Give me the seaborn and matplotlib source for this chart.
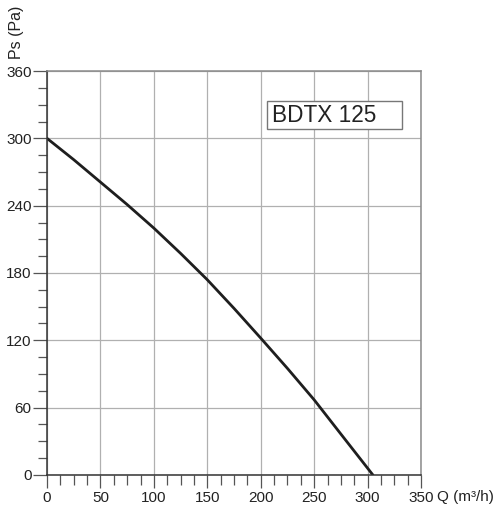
import matplotlib
matplotlib.use("Agg")
import matplotlib.pyplot as plt
from matplotlib.ticker import MultipleLocator
from matplotlib.patches import Rectangle
import seaborn as sns
import pandas as pd

# Data
q_values = [0, 25, 50, 75, 100, 125, 150, 175, 200, 225, 250, 275, 305]
ps_values = [300, 281, 261, 241, 220, 197.5, 174, 148.5, 122, 95, 67, 36.5, 0]
x_ticks = [0, 50, 100, 150, 200, 250, 300, 350]
y_ticks = [0, 60, 120, 180, 240, 300, 360]
title_text = "BDTX 125"
x_label = "Q (m³/h)"
y_label = "Ps (Pa)"

sns.set_style("white")
plt.rcParams["font.family"] = ["Liberation Sans", "DejaVu Sans"]

df = pd.DataFrame({"Q": q_values, "Ps": ps_values})

fig = plt.figure(figsize=(5.0, 5.12), dpi=100)
ax = fig.add_axes([0.094, 0.0723, 0.748, 0.789])

sns.lineplot(data=df, x="Q", y="Ps", ax=ax, color="#1e1e1e", linewidth=2.0)

ax.set_xlim(0, 350)
ax.set_ylim(0, 360)
ax.set_xticks(x_ticks)
ax.set_yticks(y_ticks)
ax.xaxis.set_minor_locator(MultipleLocator(12.5))
ax.yaxis.set_minor_locator(MultipleLocator(15))
ax.grid(True, which="major", color="#b0b0b0", linewidth=0.9)
ax.set_axisbelow(True)

ax.tick_params(axis="both", which="both", bottom=True, left=True,
               top=False, right=False, direction="out", color="#555555", width=0.9)
ax.tick_params(axis="both", which="major", labelsize=11, labelcolor="#222222")
ax.tick_params(axis="y", which="major", length=10, pad=1)
ax.tick_params(axis="x", which="major", length=9.4, pad=2)
ax.tick_params(axis="y", which="minor", length=6.5)
ax.tick_params(axis="x", which="minor", length=7)

for side in ["left", "bottom"]:
    ax.spines[side].set_color("#333333")
    ax.spines[side].set_linewidth(1.1)
for side in ["top", "right"]:
    ax.spines[side].set_visible(True)
    ax.spines[side].set_color("#8a8a8a")
    ax.spines[side].set_linewidth(1.1)

ax.set_xlabel("")
ax.set_ylabel("")

fig.text(437 / 500, 1 - 496.5 / 512, x_label, fontsize=11, color="#222222",
         ha="left", va="center")
fig.text(17 / 500, 1 - 32 / 512, y_label, fontsize=11.5, color="#222222",
         ha="center", va="center", rotation=90)

# Label box
ax.add_patch(Rectangle((0.588, 0.856), 0.361, 0.070, transform=ax.transAxes,
                       facecolor="white", edgecolor="#777777", linewidth=1.0,
                       zorder=5))
ax.text(0.602, 0.891, title_text, transform=ax.transAxes, fontsize=16.3,
        color="#222222", ha="left", va="center", zorder=6)

fig.savefig("out.png", dpi=100)
